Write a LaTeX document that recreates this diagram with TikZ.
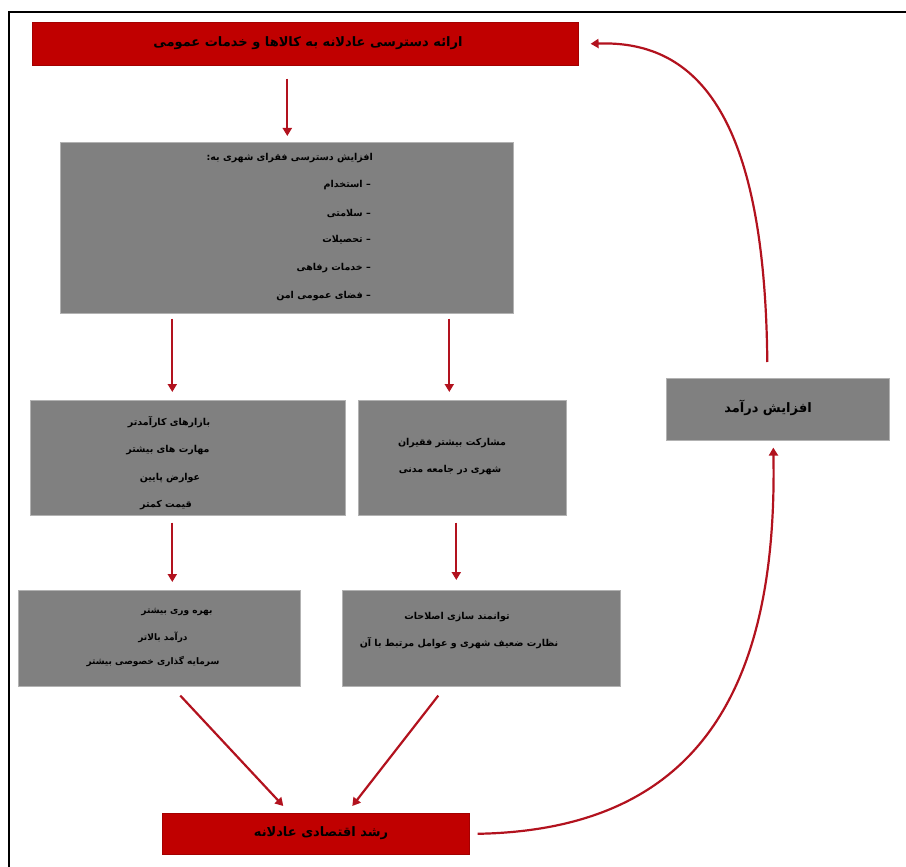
\documentclass[tikz,border=0pt]{standalone}
\usepackage{fontspec}
\TeXXeTstate=1
\newfontfamily\fa[Script=Arabic]{DejaVu Sans}
\usetikzlibrary{arrows.meta,calc}
\newcommand{\pl}[1]{\beginR #1\endR}
\definecolor{boxred}{RGB}{192,0,0}
\definecolor{boxgray}{RGB}{128,128,128}
\definecolor{arrred}{RGB}{178,18,30}
\begin{document}
\begin{tikzpicture}[x=1pt,y=-1pt,
  redbox/.style={draw=boxred!85!black,line width=0.6pt,fill=boxred,anchor=north west,inner sep=0pt},
  graybox/.style={draw=gray!60,line width=0.6pt,fill=boxgray,anchor=north west,inner sep=0pt},
  txt/.style={font=\fa\bfseries\fontsize{9.5}{11}\selectfont,inner sep=0pt,text=black},
  smalltxt/.style={font=\fa\bfseries\fontsize{9}{11}\selectfont,inner sep=0pt,text=black},
  bigtxt/.style={font=\fa\bfseries\fontsize{13}{15}\selectfont,inner sep=0pt,text=black},
  arr/.style={draw=arrred,line width=2.2pt,-{Triangle[length=8pt,width=9pt]}}]
\useasboundingbox (0,0) rectangle (906,867);
\draw[line width=2pt] (9,867) -- (9,12) -- (906,12);

% boxes
\node[redbox,minimum width=546pt,minimum height=43pt] (top) at (32,22) {};
\node[graybox,minimum width=453pt,minimum height=171pt] (big) at (60,142) {};
\node[graybox,minimum width=315pt,minimum height=115pt] (left) at (30,400) {};
\node[graybox,minimum width=208pt,minimum height=115pt] (mid) at (358,400) {};
\node[graybox,minimum width=223pt,minimum height=62pt] (right) at (666,378) {};
\node[graybox,minimum width=282pt,minimum height=96pt] (bl) at (18,590) {};
\node[graybox,minimum width=278pt,minimum height=96pt] (br) at (342,590) {};
\node[redbox,minimum width=307pt,minimum height=41pt] (bot) at (162,813) {};

% texts
\node[bigtxt] (ttop) at (308,43) {\pl{ارائه دسترسی عادلانه به کالاها و خدمات عمومی}};

\node[txt,anchor=east] (g1) at (373,158) {\pl{افزایش دسترسی فقرای شهری به:}};
\node[txt,anchor=east] (g2) at (371,185) {\pl{– استخدام}};
\node[txt,anchor=east] (g3) at (371,213) {\pl{– سلامتی}};
\node[txt,anchor=east] (g4) at (371,240) {\pl{– تحصیلات}};
\node[txt,anchor=east] (g5) at (371,268) {\pl{– خدمات رفاهی}};
\node[txt,anchor=east] (g6) at (371,296) {\pl{– فضای عمومی امن}};

\node[txt] (l1) at (169,422) {\pl{بازارهای کارآمدتر}};
\node[txt] (l2) at (168,450) {\pl{مهارت های بیشتر}};
\node[txt] (l3) at (170,478) {\pl{عوارض پایین}};
\node[txt] (l4) at (166,505) {\pl{قیمت کمتر}};

\node[txt] (m1) at (452,443) {\pl{مشارکت بیشتر فقیران}};
\node[txt] (m2) at (450,470) {\pl{شهری در جامعه مدنی}};

\node[bigtxt] (rt) at (768,408) {\pl{افزایش درآمد}};

\node[smalltxt] (b1) at (177,612) {\pl{بهره وری بیشتر}};
\node[smalltxt] (b2) at (163,637) {\pl{درآمد بالاتر}};
\node[smalltxt] (b3) at (153,662) {\pl{سرمایه گذاری خصوصی بیشتر}};

\node[txt] (r1) at (457,617) {\pl{توانمند سازی اصلاحات}};
\node[txt] (r2) at (459,643) {\pl{نظارت ضعیف شهری و عوامل مرتبط با آن}};

\node[bigtxt] (tb) at (321,833) {\pl{رشد اقتصادی عادلانه}};

% connectors
\draw[arr] ($(top.south)+(-18,13)$) -- ($(big.north)+(0.5,-6)$);
\draw[arr] ($(big.south)+(-114.5,5)$) -- ($(left.north)+(-15.5,-8)$);
\draw[arr] ($(big.south)+(162.5,5)$) -- ($(mid.north)+(-13,-8)$);
\draw[arr] ($(left.south)+(-15.5,7)$) -- ($(bl.north)+(13,-8)$);
\draw[arr] ($(mid.south)+(-6,7)$) -- ($(br.north)+(-25,-10)$);
\draw[arr] ($(bl.south)+(21,9)$) -- ($(bot.north)+(-32.5,-7)$);
\draw[arr] ($(br.south)+(-43,9)$) -- ($(bot.north)+(36.5,-7)$);
\draw[arr] ($(bot.east)+(8,0)$) .. controls (690,830) and (778,700) .. ($(right.south)+(-4.5,7)$);
\draw[arr] ($(right.north)+(-10.5,-16)$) .. controls (765,120) and (700,40) .. ($(top.east)+(12,0)$);
\end{tikzpicture}
\end{document}
